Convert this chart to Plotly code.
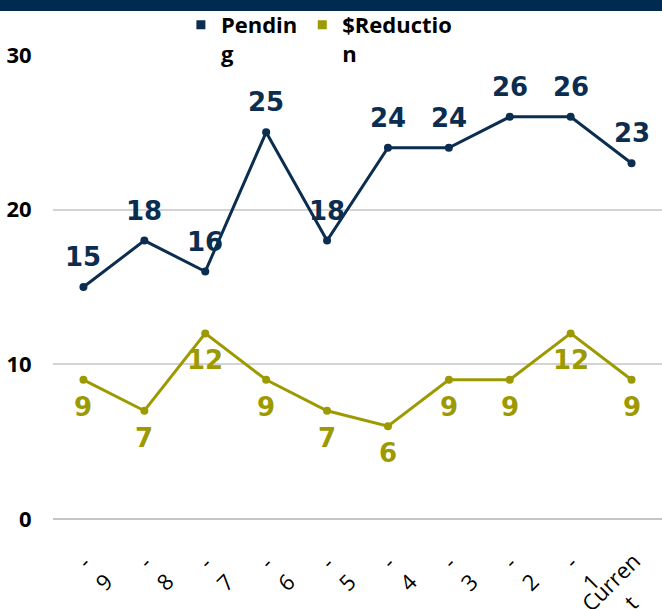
import plotly.graph_objects as go

categories = ["-<br>9", "-<br>8", "-<br>7", "-<br>6", "-<br>5", "-<br>4", "-<br>3", "-<br>2", "-<br>1", "Curren<br>t"]
pending = [15, 18, 16, 25, 18, 24, 24, 26, 26, 23]
reduction = [9, 7, 12, 9, 7, 6, 9, 9, 12, 9]
legend_names = ["Pendin<br>g", "$Reductio<br>n"]
y_ticks = [0, 10, 20, 30]

NAVY = "#0B2D50"
OLIVE = "#9C9A00"
x_idx = list(range(len(categories)))

fig = go.Figure()
fig.add_trace(go.Scatter(x=x_idx, y=pending, mode="lines+markers",
                         line=dict(color=NAVY, width=3), marker=dict(size=8, color=NAVY),
                         showlegend=False, hoverinfo="skip", cliponaxis=False))
fig.add_trace(go.Scatter(x=x_idx, y=reduction, mode="lines+markers",
                         line=dict(color=OLIVE, width=3), marker=dict(size=8, color=OLIVE),
                         showlegend=False, hoverinfo="skip", cliponaxis=False))
# legend entries (square swatches)
for name, col in zip(legend_names, [NAVY, OLIVE]):
    fig.add_trace(go.Scatter(x=[None], y=[None], mode="markers", name=name,
                             marker=dict(symbol="square", size=9, color=col)))

LBL_FONT = "DejaVu Sans"
annotations = []
for i, v in enumerate(pending):
    annotations.append(dict(x=i, y=v, xref="x", yref="y", text=str(v), showarrow=False,
                            yshift=30, font=dict(family=LBL_FONT, size=26, color=NAVY, weight="bold")))
for i, v in enumerate(reduction):
    annotations.append(dict(x=i, y=v, xref="x", yref="y", text=str(v), showarrow=False,
                            yshift=-27, font=dict(family=LBL_FONT, size=26, color=OLIVE, weight="bold")))
# rotated category labels
for i, lab in enumerate(categories):
    annotations.append(dict(x=i, y=0, xref="x", yref="y", text=lab, showarrow=False,
                            textangle=-45, align="center", xanchor="right", yanchor="top",
                            xshift=38, yshift=-24,
                            font=dict(family="Open Sans", size=22, color="black")))

fig.update_layout(
    width=662, height=609,
    margin=dict(l=53, r=0, t=55, b=90, autoexpand=False),
    paper_bgcolor="white", plot_bgcolor="white",
    font=dict(family="Open Sans", color="black"),
    showlegend=True,
    legend=dict(orientation="h", x=0.21, y=1.11, xanchor="left", yanchor="top",
                valign="top", font=dict(family="Open Sans", size=22, color="black", weight="bold"),
                bgcolor="rgba(0,0,0,0)", itemwidth=30, tracegroupgap=0),
    xaxis=dict(range=[-0.5, len(categories) - 0.5], tickmode="array", tickvals=x_idx,
               showticklabels=False, showgrid=False, zeroline=False,
               showline=False, ticks="", automargin=False),
    yaxis=dict(range=[0, 30], tickmode="array", tickvals=y_ticks, showgrid=True,
               gridcolor="#d3d3d3", gridwidth=1.5, zeroline=True, zerolinecolor="#c4c4c4",
               zerolinewidth=1.5, showline=False, ticks="outside", ticklen=16,
               tickcolor="rgba(0,0,0,0)", automargin=False,
               tickfont=dict(family="Open Sans", size=22, color="black", weight="bold")),
    annotations=annotations,
    shapes=[dict(type="rect", xref="paper", yref="paper", x0=-0.1, x1=1.05,
                 y0=(519 - 11) / 464, y1=1.2, fillcolor="#002A4F", line=dict(width=0), layer="above")],
)

fig.write_html("out.html", config={"displayModeBar": False},
               post_script="document.body.style.margin='0';")
